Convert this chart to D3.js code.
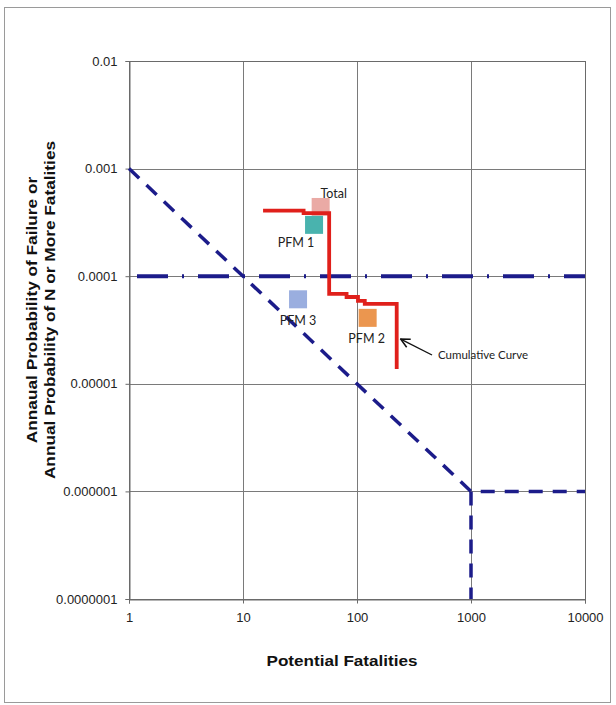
<!DOCTYPE html>
<html><head><meta charset="utf-8">
<script src="https://cdn.jsdelivr.net/npm/d3@7"></script>
<style>body{margin:0;background:#fff}svg{display:block}</style>
</head><body>
<svg id="c" width="616" height="705"></svg>
<script>
// ---- data ----
const xTicks = [1, 10, 100, 1000, 10000];
const xTickLabels = ["1", "10", "100", "1000", "10000"];
const yTicks = [1e-7, 1e-6, 1e-5, 1e-4, 1e-3, 1e-2];
const yTickLabels = ["0.0000001", "0.000001", "0.00001", "0.0001", "0.001", "0.01"];

// cumulative F-N step curve
const cumN = [15, 34, 57, 81, 102, 117, 223];
const cumP = [4.06e-4, 3.86e-4, 6.84e-5, 6.41e-5, 5.89e-5, 5.52e-5, 1.37e-5];

// individual failure modes
const pfmNames = ["Total", "PFM 1", "PFM 3", "PFM 2"];
const pfmN = [48, 42, 30.4, 124];
const pfmP = [4.4e-4, 3.0e-4, 6.1e-5, 4.1e-5];
const pfmColors = ["#E8A19B", "#35ABA5", "#8FA5DB", "#E98B3C"];

// guideline (dashed) limit
const limitN = [1, 1000, 10000];
const limitP = [1e-3, 1e-6, 1e-6];
const limitVertN = [1000, 1000];
const limitVertP = [1e-6, 1e-7];
// tolerable risk line
const tolN = [1, 10000];
const tolP = [1e-4, 1e-4];

// ---- layout ----
const svg = d3.select("#c");
const x = d3.scaleLog().domain([1, 10000]).range([129, 585]);
const y = d3.scaleLog().domain([1e-7, 1e-2]).range([599, 61]);
const navy = "#1C1C8A";
const sans = "Liberation Sans, Arial, sans-serif";

// outer frame
svg.append("rect").attr("x", 4.5).attr("y", 7.5).attr("width", 606).attr("height", 695)
  .attr("fill", "none").attr("stroke", "#9a9a9a").attr("stroke-width", 1);

// gridlines
const g = svg.append("g");
g.selectAll("line.gx").data(xTicks).join("line")
  .attr("x1", d => Math.round(x(d)) + 0.5).attr("x2", d => Math.round(x(d)) + 0.5)
  .attr("y1", y(1e-2)).attr("y2", y(1e-7)).attr("stroke", "#7a7a7a").attr("stroke-width", 1);
g.selectAll("line.gy").data(yTicks).join("line")
  .attr("y1", d => Math.round(y(d)) + 0.5).attr("y2", d => Math.round(y(d)) + 0.5)
  .attr("x1", x(1)).attr("x2", x(10000)).attr("stroke", "#7a7a7a").attr("stroke-width", 1);

// axes
const xAxis = d3.axisBottom(x).tickValues(xTicks).tickFormat((d, i) => xTickLabels[i]).tickSize(4).tickPadding(7);
const yAxis = d3.axisLeft(y).tickValues(yTicks).tickFormat((d, i) => yTickLabels[i]).tickSize(4).tickPadding(8);
const ax = svg.append("g").attr("transform", "translate(0,599.5)").call(xAxis);
const ay = svg.append("g").attr("transform", "translate(129.5,0)").call(yAxis);
[ax, ay].forEach(a => {
  a.select(".domain").attr("stroke", "#6a6a6a");
  a.selectAll(".tick line").attr("stroke", "#6a6a6a");
  a.selectAll("text").attr("font-family", sans).attr("font-size", 13).attr("fill", "#222");
});
ax.selectAll("text").attr("dy", "0.85em");
// plot border
svg.append("rect").attr("x", 129.5).attr("y", 61.5).attr("width", x(10000) - x(1)).attr("height", y(1e-7) - y(1e-2))
  .attr("fill", "none").attr("stroke", "#6a6a6a");

// tolerable risk line (dash-dot)
const line = d3.line().x(d => x(d[0])).y(d => y(d[1]));
svg.append("path").datum(tolN.map((n, i) => [n, tolP[i]])).attr("d", line)
  .attr("fill", "none").attr("stroke", navy).attr("stroke-width", 4)
  .attr("stroke-dasharray", "31,14,2,14").attr("stroke-dashoffset", -8);

// limit line (dashed)
svg.append("path").datum(limitN.map((n, i) => [n, limitP[i]])).attr("d", line)
  .attr("fill", "none").attr("stroke", navy).attr("stroke-width", 3.5).attr("stroke-dasharray", "14,10");
svg.append("path").datum(limitVertN.map((n, i) => [n, limitVertP[i]])).attr("d", line)
  .attr("fill", "none").attr("stroke", navy).attr("stroke-width", 3.5).attr("stroke-dasharray", "14,10");

// PFM squares
const sq = 18;
svg.selectAll("rect.pfm").data(pfmNames).join("rect")
  .attr("x", (d, i) => x(pfmN[i]) - sq / 2).attr("y", (d, i) => y(pfmP[i]) - sq / 2)
  .attr("width", sq).attr("height", sq).attr("fill", (d, i) => pfmColors[i]).attr("opacity", 0.9);

// cumulative curve
const stepLine = d3.line().x(d => x(d[0])).y(d => y(d[1])).curve(d3.curveStepAfter);
svg.append("path").datum(cumN.map((n, i) => [n, cumP[i]])).attr("d", stepLine)
  .attr("fill", "none").attr("stroke", "#E0201B").attr("stroke-width", 3.8);

// labels
const lblFont = "Lato, 'Open Sans', sans-serif";
const lblOff = [[13, -13], [-18, 18], [0, 22], [-1, 21]];
svg.selectAll("text.pfm").data(pfmNames).join("text")
  .attr("x", (d, i) => x(pfmN[i]) + lblOff[i][0]).attr("y", (d, i) => y(pfmP[i]) + lblOff[i][1] + 4)
  .attr("text-anchor", "middle").attr("font-family", lblFont).attr("font-size", 12.5).attr("fill", "#222")
  .text(d => d);

// annotation
svg.append("defs").append("marker").attr("id", "ah").attr("viewBox", "0 0 10 10").attr("refX", 9).attr("refY", 5)
  .attr("markerWidth", 8).attr("markerHeight", 8).attr("orient", "auto")
  .append("path").attr("d", "M1,1 L9,5 L1,9").attr("fill", "none").attr("stroke", "#111").attr("stroke-width", 1.4);
const annN = cumN[cumN.length - 1], annP = 2.6e-5;
svg.append("line").attr("x1", 432).attr("y1", 355).attr("x2", x(annN) + 4).attr("y2", y(annP))
  .attr("stroke", "#111").attr("stroke-width", 1.4).attr("marker-end", "url(#ah)");
svg.append("text").attr("x", 438).attr("y", 359).attr("font-family", lblFont).attr("font-size", 11.5)
  .attr("fill", "#222").text("Cumulative Curve");

// axis titles
svg.append("text").attr("transform", "translate(342,666) scale(1.14,1)").attr("text-anchor", "middle")
  .attr("font-family", sans).attr("font-weight", "bold").attr("font-size", 15)
  .attr("fill", "#111").text("Potential Fatalities");
const yl = svg.append("text").attr("transform", "translate(37,310) rotate(-90) scale(1.15,1)").attr("text-anchor", "middle")
  .attr("font-family", sans).attr("font-weight", "bold").attr("font-size", 15).attr("fill", "#111");
yl.append("tspan").attr("x", 0).attr("y", 0).text("Annaual Probability of Failure or");
yl.append("tspan").attr("x", 0).attr("y", 18).text("Annual Probability of N or More Fatalities");
</script>
</body></html>
